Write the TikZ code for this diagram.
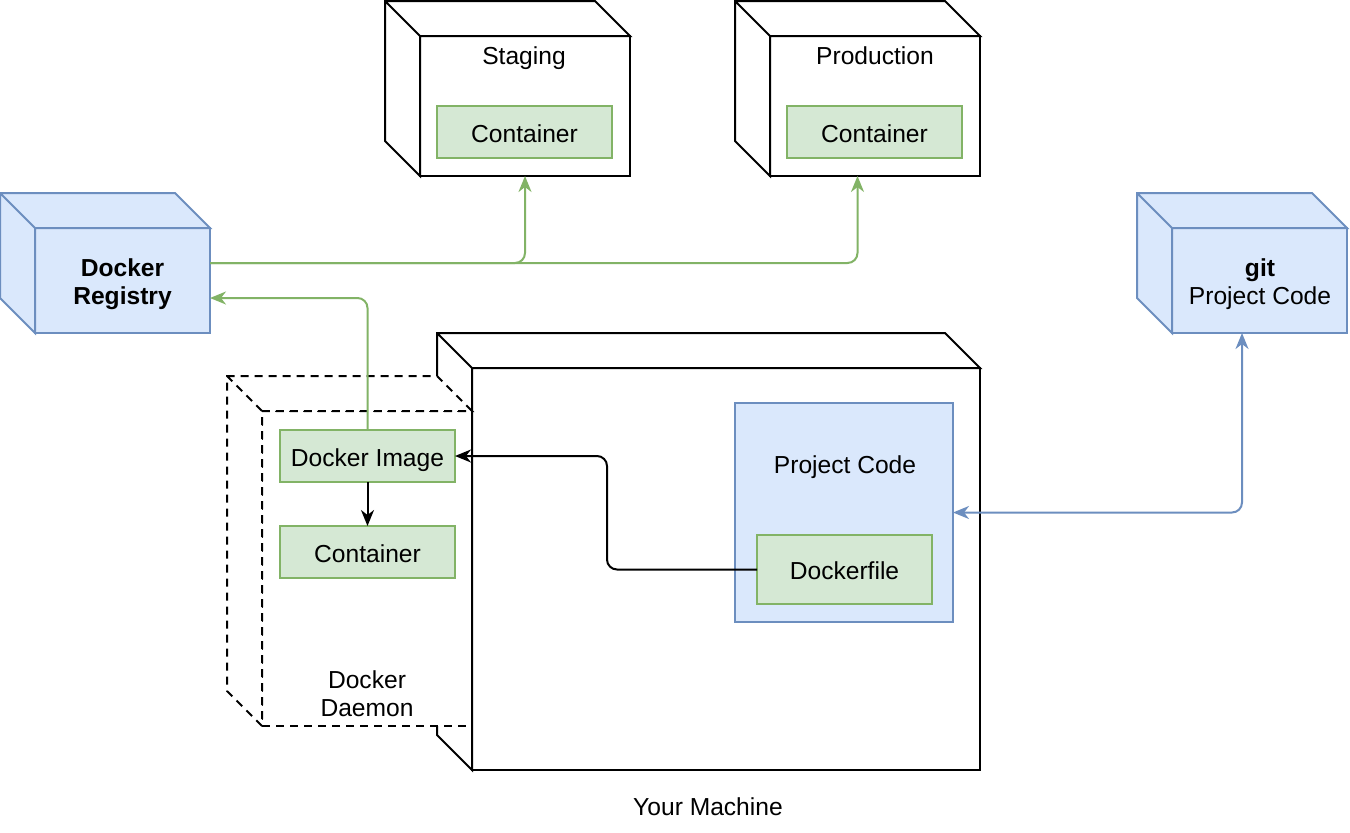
\documentclass[tikz,border=0pt]{standalone}
\usepackage{fontspec}
\setmainfont{Liberation Sans}
\usetikzlibrary{arrows.meta,positioning}

\definecolor{greenfill}{HTML}{D5E8D4}
\definecolor{greenline}{HTML}{82B366}
\definecolor{bluefill}{HTML}{DAE8FC}
\definecolor{blueline}{HTML}{6C8EBF}

\tikzset{
	box/.style={draw, line width=1pt, outer sep=0pt, inner sep=0pt},
	greenbox/.style={box, draw=greenline, fill=greenfill, minimum width=87.5pt, minimum height=26pt, text height=10pt, text depth=0pt},
	bluebox/.style={box, draw=blueline, fill=bluefill},
	plainbox/.style={box, fill=white},
	daemonbox/.style={box, dash pattern=on 4pt off 3pt, fill=white},
	txt/.style={align=center, inner sep=0pt}
}

\begin{document}
\begin{tikzpicture}[x=0.5pt, y=-0.5pt, line width=1pt, >={Stealth[length=8pt,width=6.5pt,inset=2.5pt]}, font=\fontsize{12.3}{14}\selectfont]
	\useasboundingbox (0,0) rectangle (1350,832);
	% top servers
	\node[plainbox, minimum width=105pt, minimum height=70pt] (stag) at (525,106) {};
	\draw[fill=white] (stag.south west) -- ++(-35,-35) |- ([shift={(-35,-35)}]stag.north east) -- (stag.north east) -- (stag.north west) -- cycle (stag.north west) -- ++(-35,-35);
	\node[txt, anchor=base] (stagtxt) at (524,64) {Staging};
	\node[greenbox] (stagcont) at (524.5,132) {Container};
	\node[plainbox, minimum width=105pt, minimum height=70pt] (prod) at (875,106) {};
	\draw[fill=white] (prod.south west) -- ++(-35,-35) |- ([shift={(-35,-35)}]prod.north east) -- (prod.north east) -- (prod.north west) -- cycle (prod.north west) -- ++(-35,-35);
	\node[txt, anchor=base] (prodtxt) at (875,64) {Production};
	\node[greenbox] (prodcont) at (874.5,132) {Container};
	% registry and git
	\node[bluebox, minimum width=87.5pt, minimum height=52.5pt] (reg) at (122.5,280.5) {};
	\draw[blueline, fill=bluefill] (reg.south west) -- ++(-35,-35) |- ([shift={(-35,-35)}]reg.north east) -- (reg.north east) -- (reg.north west) -- cycle (reg.north west) -- ++(-35,-35);
	\node[txt] (regtxt) at (122.5,284.5) {\textbf{Docker}\\\textbf{Registry}};
	\node[bluebox, minimum width=87.5pt, minimum height=52.5pt] (git) at (1259.5,280.5) {};
	\draw[blueline, fill=bluefill] (git.south west) -- ++(-35,-35) |- ([shift={(-35,-35)}]git.north east) -- (git.north east) -- (git.north west) -- cycle (git.north west) -- ++(-35,-35);
	\node[txt] (gittxt) at (1260,284.5) {\textbf{git}\\Project Code};
	% your machine
	\node[plainbox, minimum width=254pt, minimum height=201pt] (mach) at (726,569) {};
	\draw[fill=white] (mach.south west) -- ++(-35,-35) |- ([shift={(-35,-35)}]mach.north east) -- (mach.north east) -- (mach.north west) -- cycle (mach.north west) -- ++(-35,-35);
	\node[txt] (machtxt) at (708,807) {Your Machine};
	% docker daemon
	\node[daemonbox, minimum width=105pt, minimum height=157.5pt] (daemon) at (367,568.5) {};
	\draw[dash pattern=on 4pt off 3pt, fill=white] (daemon.south west) -- ++(-35,-35) |- ([shift={(-35,-35)}]daemon.north east) -- (daemon.north east) -- (daemon.north west) -- cycle (daemon.north west) -- ++(-35,-35);
	\draw (mach.north west) -- (mach.south west);
	\node[txt] (daemontxt) at (367,694) {Docker\\Daemon};
	\node[greenbox] (img) at (367.5,456) {Docker Image};
	\node[greenbox] (cont) at (367.5,552) {Container};
	% project code
	\node[bluebox, minimum width=109pt, minimum height=109.5pt] (proj) at (844,512.5) {};
	\node[txt, anchor=base] (projtxt) at (845,473) {Project Code};
	\node[greenbox, minimum height=34.5pt] (dfile) at (844.5,569.5) {Dockerfile};
	% arrows
	\draw[->] (img) -- (cont);
	\draw[->, rounded corners=5pt] (dfile.west) -- ++(-150,0) |- (img.east);
	\draw[->, greenline, rounded corners=5pt] (img.north) |- ([shift={(0,17.5)}]reg.east);
	\draw[->, greenline, rounded corners=5pt] ([shift={(0,-17.5)}]reg.east) -| (stag.south);
	\draw[->, greenline, rounded corners=5pt] ([shift={(0,-17.5)}]reg.east) -| ([shift={(-17.5,0)}]prod.south);
	\draw[<->, blueline, rounded corners=5pt] ([shift={(-17.5,0)}]git.south) |- (proj.east);
\end{tikzpicture}
\end{document}
